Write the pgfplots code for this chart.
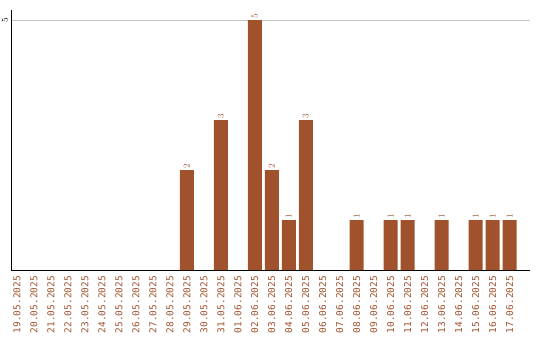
\documentclass[border=0pt]{standalone}
\usepackage{pgfplots}
\pgfplotsset{compat=1.18}
\usepackage{fontspec}
\setmainfont{DejaVu Sans Mono}
\definecolor{barc}{HTML}{A0522D}
\begin{document}
\begin{tikzpicture}[x=1bp,y=1bp]
\useasboundingbox (0,0) rectangle (540,340);
\begin{axis}[
  at={(11bp,70bp)}, anchor=south west,
  scale only axis, width=519bp, height=260bp,
  xmin=-0.35, xmax=30.2, ymin=0, ymax=5.2,
  axis lines*=left,
  axis line style={black, line width=1bp},
  ybar, bar width=14bp,
  ytick={5}, ymajorgrids, grid style={gray!45, line width=0.8bp},
  major tick length=0pt,
  yticklabel style={rotate=90, anchor=south, font=\fontsize{9}{10}\selectfont, inner sep=0pt},
  yticklabel shift=3bp,
  xtick={0,...,29},
  xticklabels={19.05.2025,20.05.2025,21.05.2025,22.05.2025,23.05.2025,24.05.2025,25.05.2025,26.05.2025,27.05.2025,28.05.2025,29.05.2025,30.05.2025,31.05.2025,01.06.2025,02.06.2025,03.06.2025,04.06.2025,05.06.2025,06.06.2025,07.06.2025,08.06.2025,09.06.2025,10.06.2025,11.06.2025,12.06.2025,13.06.2025,14.06.2025,15.06.2025,16.06.2025,17.06.2025},
  xticklabel style={rotate=90, anchor=east, color=barc, inner sep=0pt, font=\fontsize{9.5}{10}\selectfont},
  xticklabel shift=6bp,
  nodes near coords,
  nodes near coords style={rotate=90, anchor=west, color=barc, inner sep=1.5bp, font=\fontsize{9.5}{10}\selectfont},
  clip=false,
]
\addplot[fill=barc, draw=none] coordinates {
 (10,2) (12,3) (14,5) (15,2) (16,1) (17,3) (20,1) (22,1) (23,1) (25,1) (27,1) (28,1) (29,1)
};
\end{axis}
\end{tikzpicture}
\end{document}
